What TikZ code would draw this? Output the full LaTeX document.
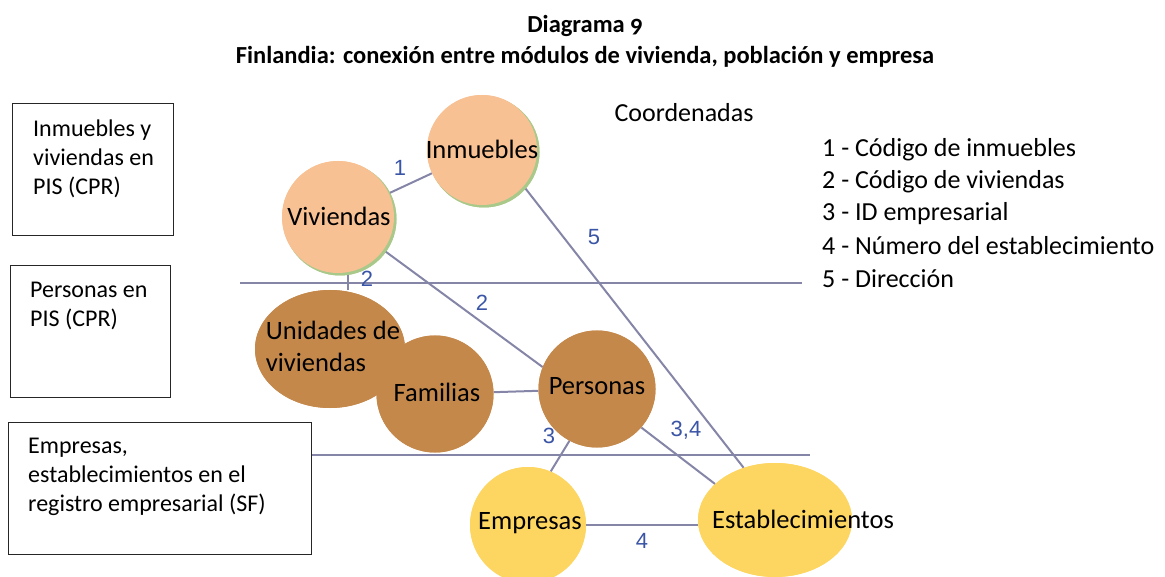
\documentclass[tikz,border=0pt]{standalone}
\usepackage{fontspec}
\setmainfont{Carlito}
\newfontfamily\numfont{Liberation Sans}
\newfontfamily\titlefont[Numbers=OldStyle]{Carlito}
\usetikzlibrary{shapes.geometric}
\definecolor{peach}{HTML}{F8C193}
\definecolor{shadowgreen}{HTML}{A9C98A}
\definecolor{brownfill}{HTML}{C4884B}
\definecolor{yellowfill}{HTML}{FDD662}
\definecolor{linecol}{HTML}{8585A8}
\definecolor{numcol}{HTML}{3B55A6}
\tikzset{
  conn/.style={draw=linecol, line width=2pt},
  layerbox/.style={draw=black!85, line width=1pt},
  boxtext/.style={anchor=north west, inner sep=0pt, align=left, font=\fontsize{24}{29}\selectfont},
  bubbletext/.style={inner sep=0pt, align=left, font=\fontsize{26.5}{32}\selectfont},
  legendtext/.style={anchor=west, inner sep=0pt, font=\fontsize{26}{32}\selectfont},
  numlabel/.style={inner sep=0pt, text=numcol, font=\numfont\fontsize{22}{24}\selectfont},
  titletext/.style={inner sep=0pt, font=\titlefont\bfseries\fontsize{24.5}{28}\selectfont},
  peachball/.style={circle, fill=peach, inner sep=0pt, minimum size=#1},
  greenball/.style={circle, fill=shadowgreen, inner sep=0pt, minimum size=#1},
  brownball/.style={circle, fill=brownfill, inner sep=0pt, minimum size=#1},
  yellowball/.style={circle, fill=yellowfill, inner sep=0pt, minimum size=#1},
}
\begin{document}
\begin{tikzpicture}[x=1pt,y=-1pt]
\useasboundingbox (0,0) rectangle (1165,577);
\clip (0,0) rectangle (1165,577);

% title
\node[titletext] (title1) at (585,26) {Diagrama 9};
\node[titletext] (title2) at (585,57) {Finlandia: conexión entre módulos de vivienda, población y empresa};

% layer boxes
\node[layerbox, minimum width=161pt, minimum height=132pt, anchor=north west, inner sep=0pt] (box1) at (12,103) {};
\node[layerbox, minimum width=160pt, minimum height=132pt, anchor=north west, inner sep=0pt] (box2) at (10,265) {};
\node[layerbox, minimum width=303pt, minimum height=132pt, anchor=north west, inner sep=0pt] (box3) at (8,422) {};
\node[boxtext] (box1t) at (33,120) {Inmuebles y\\viviendas en\\PIS (CPR)};
\node[boxtext] (box2t) at (30,282) {Personas en\\PIS (CPR)};
\node[boxtext] (box3t) at (28,438) {Empresas,\\establecimientos en el\\registro empresarial (SF)};

% separator lines
\coordinate (sepAl) at (240,283);
\coordinate (sepAr) at (802,283);
\coordinate (sepBr) at (810,455);
\draw[conn] (sepAl) -- (sepAr);
\draw[conn] (box3.east |- sepBr) -- (sepBr);

% shapes
\node[greenball=111pt] (inmS) at (484,152) {};
\node[peachball=110pt] (inm) at (482,150) {};
\node[greenball=113pt] (vivS) at (340,219) {};
\node[peachball=112pt] (viv) at (338,217) {};
\node[ellipse, fill=brownfill, inner sep=0pt, minimum width=150pt, minimum height=118pt] (uni) at (330,349) {};
\node[brownball=117pt] (fam) at (435,394) {};
\node[brownball=117pt] (per) at (597,389) {};
\node[yellowball=116pt] (emp) at (528,525) {};
\node[ellipse, fill=yellowfill, inner sep=0pt, minimum width=154pt, minimum height=114pt] (est) at (775,520) {};

% connectors
\draw[conn] (viv) -- (inm);
\draw[conn] ([xshift=10pt]viv.south) -- ([xshift=10pt]viv.south |- uni.north);
\draw[conn] (viv.-36) -- (per.158);
\draw[conn] (inm.-41) -- (est.121);
\draw[conn] (fam) -- (per);
\draw[conn] (per.242) -- (emp.67);
\draw[conn] (per.-41) -- (est.149);
\draw[conn] (emp.east) -- (emp.east -| est.west);

% redraw shapes on top of connectors
\node[greenball=111pt] at (inmS) {};
\node[peachball=110pt] at (inm) {};
\node[greenball=113pt] at (vivS) {};
\node[peachball=112pt] at (viv) {};
\node[ellipse, fill=brownfill, inner sep=0pt, minimum width=150pt, minimum height=118pt] at (uni) {};
\node[brownball=117pt] at (fam) {};
\node[brownball=117pt] at (per) {};
\node[yellowball=116pt] at (emp) {};
\node[ellipse, fill=yellowfill, inner sep=0pt, minimum width=154pt, minimum height=114pt] at (est) {};

% texts in shapes
\node[bubbletext] (inmT) at (482,149) {Inmuebles};
\node[bubbletext] (vivT) at (339,216) {Viviendas};
\node[bubbletext] (uniT) at (333,346) {Unidades de\\viviendas};
\node[bubbletext] (famT) at (437,392) {Familias};
\node[bubbletext] (perT) at (597,386) {Personas};
\node[bubbletext] (empT) at (530,523) {Empresas};
\node[bubbletext] (estT) at (803,519) {Establecimientos};

% number labels
\node[numlabel] (n1) at (400,168) {1};
\node[numlabel] (n2a) at (367,279) {2};
\node[numlabel] (n2b) at (482,303) {2};
\node[numlabel] (n5) at (594,237) {5};
\node[numlabel] (n3) at (549,436) {3};
\node[numlabel] (n34) at (686,430) {3,4};
\node[numlabel] (n4) at (642,541) {4};

% legend
\node[inner sep=0pt, font=\fontsize{26}{32}\selectfont] (coord) at (684,113) {Coordenadas};
\node[legendtext] (l1) at (822,150) {1 - Código de inmuebles};
\node[legendtext] (l2) at (822,182) {2 - Código de viviendas};
\node[legendtext] (l3) at (822,214) {3 - ID empresarial};
\node[legendtext] (l4) at (822,246) {4 - Número del establecimiento};
\node[legendtext] (l5) at (822,279) {5 - Dirección};
\end{tikzpicture}
\end{document}
